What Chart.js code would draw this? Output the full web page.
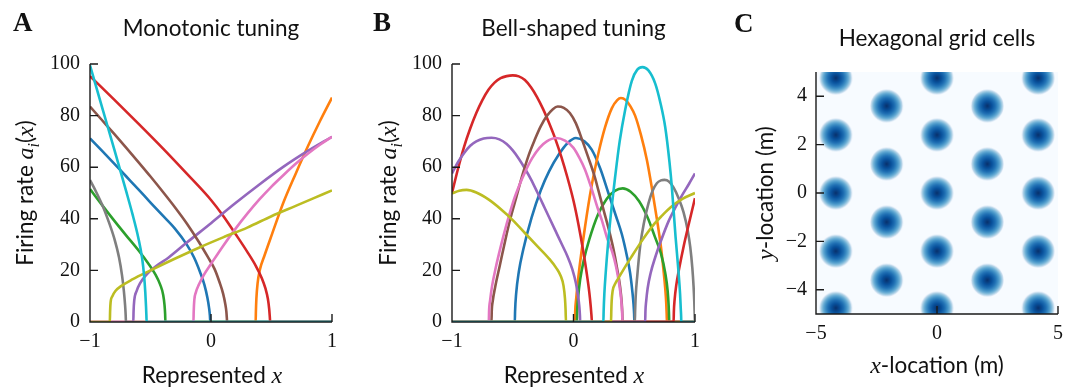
<!DOCTYPE html>
<html>
<head>
<meta charset="utf-8">
<title>Tuning curves</title>
<script src="https://cdn.jsdelivr.net/npm/chart.js@4.4.1/dist/chart.umd.min.js"></script>
<style>
  html, body { margin: 0; padding: 0; background: #fff; }
  #fig { position: relative; width: 1073px; height: 387px; overflow: hidden; }
  #fig canvas { position: absolute; top: 0; }
  .lbl { position: absolute; font-family: Lato, sans-serif; font-size: 22.5px; color: #111;
         white-space: nowrap; line-height: 1; transform: translate(-50%, -50%); }
  .rot { transform: translate(-50%, -50%) rotate(-90deg); }
  .m { font-family: "Liberation Serif", serif; font-style: italic; font-size: 24px; }
  .lbl sub { font-size: 16px; line-height: 0; }
  .panel { position: absolute; font-family: "Liberation Serif", serif; font-weight: bold;
           font-size: 27px; line-height: 1; color: #111; }
</style>
</head>
<body>
<div id="fig">
  <canvas id="mono" width="357" height="387" style="left:0"></canvas>
  <canvas id="bell" width="359" height="387" style="left:357px"></canvas>
  <canvas id="grid" width="357" height="387" style="left:716px"></canvas>

  <div class="panel" style="left:13px;top:9px">A</div>
  <div class="panel" style="left:373px;top:9px">B</div>
  <div class="panel" style="left:734px;top:10px">C</div>

  <div class="lbl rot" style="left:25px;top:193px">Firing rate <span class="m">a</span><sub class="m">i</sub>(<span class="m">x</span>)</div>
  <div class="lbl" style="left:212px;top:375px">Represented <span class="m">x</span></div>
  <div class="lbl rot" style="left:388px;top:193px">Firing rate <span class="m">a</span><sub class="m">i</sub>(<span class="m">x</span>)</div>
  <div class="lbl" style="left:574px;top:375px">Represented <span class="m">x</span></div>
  <div class="lbl rot" style="left:765px;top:193px"><span class="m">y</span>-location (m)</div>
  <div class="lbl" style="left:937px;top:365px"><span class="m">x</span>-location (m)</div>
</div>

<script>
// tick positions
const rateTicks = [0, 20, 40, 60, 80, 100];
const xTicks = [-1, 0, 1];
const locXTicks = [-5, 0, 5];
const locYTicks = [-4, -2, 0, 2, 4];

// monotonic tuning curves, [x, rate]
const monoBlue = [[-1,71.2],[-0.9,66.3],[-0.8,61.4],[-0.7,56.4],[-0.6,51.4],[-0.5,46.3],[-0.4,41.3],[-0.3,36.3],[-0.2,30],[-0.14,25],[-0.09,19.3],[-0.055,14.5],[-0.03,9.5],[-0.016,5.5],[-0.009,2.5],[-0.006,0],[1,0]];
const monoOrange = [[-1,0],[0.369,0],[0.371,4],[0.375,9],[0.385,15],[0.405,20.5],[0.44,25.5],[0.5,33.5],[0.6,46.5],[0.7,57.5],[0.8,68],[0.9,77.8],[1,87]];
const monoGreen = [[-1,51.5],[-0.9,45.3],[-0.8,39.3],[-0.7,33.5],[-0.6,27.8],[-0.52,22.8],[-0.46,18.5],[-0.42,14.5],[-0.395,10.5],[-0.384,6.5],[-0.379,3],[-0.377,0],[1,0]];
const monoRed = [[-1,95.3],[-0.8,86.2],[-0.6,76.9],[-0.4,67.4],[-0.2,57.5],[0,47.3],[0.1,41.2],[0.2,34.3],[0.3,27.2],[0.37,21.8],[0.42,17],[0.45,13],[0.47,9],[0.481,5],[0.486,2],[0.489,0],[1,0]];
const monoPurple = [[-1,0],[-0.642,0],[-0.64,4],[-0.634,8.5],[-0.615,12],[-0.587,15],[-0.54,18],[-0.45,21.8],[-0.35,25],[-0.2,30.8],[0,38.3],[0.2,46],[0.4,53.3],[0.6,60.2],[0.8,66.3],[1,71.8]];
const monoBrown = [[-1,83.5],[-0.9,78.2],[-0.8,72.9],[-0.7,67.5],[-0.6,62],[-0.5,56.4],[-0.4,50.6],[-0.3,44.6],[-0.2,38.2],[-0.1,31],[-0.03,25.5],[0.03,20.5],[0.07,15.5],[0.1,11],[0.118,7],[0.127,4],[0.131,1.5],[0.133,0],[1,0]];
const monoPink = [[-1,0],[-0.145,0],[-0.143,4],[-0.138,8.5],[-0.125,11.5],[-0.1,14.5],[-0.06,18.2],[0,22.5],[0.1,29.5],[0.2,36],[0.3,42],[0.4,47.5],[0.5,52.5],[0.6,57],[0.7,61.3],[0.8,65.2],[0.9,68.7],[1,71.8]];
const monoGray = [[-1,55],[-0.95,50.5],[-0.9,45.5],[-0.85,39.5],[-0.8,32.5],[-0.76,25],[-0.735,18],[-0.72,12],[-0.71,6.5],[-0.705,2.5],[-0.703,0],[1,0]];
const monoOlive = [[-1,0],[-0.836,0],[-0.834,4],[-0.83,7.5],[-0.815,10],[-0.79,12],[-0.74,14],[-0.65,16.5],[-0.5,20],[-0.3,24.5],[-0.1,28.8],[0.1,32.8],[0.3,36.6],[0.5,41],[0.7,45],[0.85,48],[1,51]];
const monoCyan = [[-1,99.5],[-0.9,83.2],[-0.8,67],[-0.7,50.5],[-0.65,42],[-0.6,32.5],[-0.57,25],[-0.553,18],[-0.543,11.5],[-0.537,6],[-0.534,2.5],[-0.532,0],[1,0]];

// bell-shaped tuning curves, [x, rate]
const bellBlue = [[-1,0],[-0.483,0],[-0.481,4],[-0.472,11],[-0.45,19.5],[-0.414,28],[-0.345,40.5],[-0.27,51],[-0.2,58.5],[-0.12,65],[-0.05,69.3],[0.02,71.3],[0.09,70],[0.15,66.8],[0.22,59.5],[0.287,50],[0.35,41],[0.398,34],[0.44,25.5],[0.466,19],[0.484,12],[0.494,7],[0.499,3],[0.501,0],[1,0]];
const bellOrange = [[-1,0],[0.012,0],[0.014,4],[0.022,9],[0.04,17.5],[0.095,36.9],[0.15,53],[0.205,65.4],[0.26,75.5],[0.315,82.8],[0.36,86],[0.39,86.8],[0.43,86],[0.47,83.5],[0.507,80],[0.555,72.5],[0.604,62.8],[0.645,52],[0.686,40],[0.72,29],[0.741,20],[0.755,13],[0.763,7.5],[0.767,3],[0.769,0],[1,0]];
const bellGreen = [[-1,0],[0.028,0],[0.03,4],[0.037,9],[0.055,16.5],[0.085,24],[0.13,32],[0.2,41.5],[0.27,47.5],[0.34,50.8],[0.405,51.8],[0.47,50.5],[0.54,46.8],[0.61,40.5],[0.67,33],[0.72,26.5],[0.755,19],[0.775,12],[0.783,6.5],[0.786,3],[0.788,0],[1,0]];
const bellRed = [[-1,50],[-0.95,59.5],[-0.9,68],[-0.85,75],[-0.8,81],[-0.75,86],[-0.7,90],[-0.65,92.8],[-0.6,94.5],[-0.55,95.3],[-0.5,95.6],[-0.45,95.2],[-0.4,93.8],[-0.35,91],[-0.3,87.2],[-0.25,82.5],[-0.2,77],[-0.15,71],[-0.1,64],[-0.05,56],[0,47],[0.04,38],[0.08,27.5],[0.11,18.5],[0.13,11.5],[0.142,6],[0.148,2.5],[0.152,0],[1,0]];
const bellPurple = [[-1,57.6],[-0.95,62],[-0.9,65.5],[-0.85,68.3],[-0.8,70],[-0.74,71.1],[-0.675,71.4],[-0.61,70.8],[-0.55,69],[-0.5,66.5],[-0.45,63.3],[-0.4,59.5],[-0.35,55.3],[-0.3,50.5],[-0.25,45.5],[-0.2,40.5],[-0.15,35.5],[-0.1,30.5],[-0.05,25.5],[-0.01,20.5],[0.02,15],[0.038,10],[0.048,6],[0.053,2.5],[0.055,0],[1,0]];
const bellBrown = [[-1,0],[-0.675,0],[-0.673,4],[-0.665,8],[-0.645,13.5],[-0.606,22],[-0.56,32],[-0.52,40],[-0.47,48.5],[-0.42,57],[-0.37,64.5],[-0.32,70.5],[-0.27,75.8],[-0.22,79.8],[-0.17,82.5],[-0.13,83.5],[-0.08,83],[-0.03,81],[0.02,77],[0.068,71],[0.12,64],[0.17,57],[0.205,51],[0.25,43],[0.29,36],[0.33,28],[0.36,20.5],[0.384,13.5],[0.396,8],[0.401,4],[0.404,0],[1,0]];
const bellPink = [[-1,0],[-0.697,0],[-0.695,4],[-0.686,8.5],[-0.67,14],[-0.64,21],[-0.6,29],[-0.55,38],[-0.497,46.5],[-0.45,52.5],[-0.4,58],[-0.34,63.5],[-0.28,67.5],[-0.22,70],[-0.145,71.3],[-0.07,70.3],[0,67.5],[0.05,63.5],[0.095,59],[0.15,51.5],[0.2,44],[0.233,39.5],[0.28,32],[0.32,27],[0.35,21.5],[0.375,15],[0.392,9],[0.4,4],[0.403,0],[1,0]];
const bellGray = [[-1,0],[0.505,0],[0.507,4],[0.512,10],[0.525,18],[0.549,29.5],[0.58,38.5],[0.617,46],[0.65,50.8],[0.686,53.8],[0.72,54.9],[0.75,55.1],[0.785,54.5],[0.823,52.2],[0.865,48],[0.906,42.5],[0.94,35.5],[0.961,29],[0.978,21],[0.988,14],[0.994,8],[0.997,3.5],[0.999,0],[1,0]];
const bellOlive = [[-1,49.8],[-0.94,50.9],[-0.88,51.2],[-0.8,50.2],[-0.7,47.5],[-0.6,43.8],[-0.5,39.5],[-0.4,34.5],[-0.3,29.5],[-0.2,24.5],[-0.14,20.8],[-0.105,17.8],[-0.082,14],[-0.07,9],[-0.065,4.5],[-0.062,0],[1,0]];
const bellRed2 = [[-1,0],[0.824,0],[0.826,4],[0.832,8.5],[0.845,14],[0.87,20.8],[0.906,29.2],[0.95,38.2],[1,48]];
const bellPurple2 = [[-1,0],[0.59,0],[0.592,4],[0.598,8],[0.61,13],[0.635,19],[0.672,25],[0.72,31.5],[0.782,39],[0.84,44.5],[0.892,49],[0.95,53.5],[1,57.6]];
const bellOlive2 = [[-1,0],[0.309,0],[0.311,4],[0.314,8],[0.322,12],[0.345,15],[0.37,17],[0.42,21],[0.48,25.5],[0.535,29.5],[0.6,34],[0.67,38.3],[0.728,41.2],[0.8,44.5],[0.9,47.8],[1,50]];
const bellCyan = [[-1,0],[0.246,0],[0.248,4],[0.254,11],[0.265,19],[0.287,31.8],[0.315,45],[0.342,56],[0.38,70],[0.425,82.2],[0.48,93.5],[0.525,97.8],[0.568,98.8],[0.615,97.6],[0.672,92.5],[0.715,85],[0.755,75.5],[0.79,62],[0.81,52],[0.84,33],[0.865,19],[0.877,11],[0.883,5],[0.886,2],[0.887,0],[1,0]];

// grid cell firing field centres (m)
const fieldX = [-4.18, 0, 4.18, -2.08, 2.08, -4.18, 0, 4.18, -2.08, 2.08, -4.18, 0, 4.18, -2.08, 2.08, -4.18, 0, 4.18, -2.08, 2.08, -4.18, 0, 4.18];
const fieldY = [4.75, 4.75, 4.75, 3.6, 3.6, 2.4, 2.4, 2.4, 1.2, 1.2, 0, 0, 0, -1.2, -1.2, -2.4, -2.4, -2.4, -3.6, -3.6, -4.75, -4.75, -4.75];
const fieldRadius = 0.67;

const tab = {
  blue: '#1f77b4', orange: '#ff7f0e', green: '#2ca02c', red: '#d62728', purple: '#9467bd',
  brown: '#8c564b', pink: '#e377c2', gray: '#7f7f7f', olive: '#bcbd22', cyan: '#17becf'
};

const tickFont = { family: 'Liberation Serif', size: 20 };
const titleFont = { family: 'Lato', size: 22.5, weight: 'normal', lineHeight: 1.2 };
const minus = v => String(v).replace('-', '\u2212');

// spines and inward tick marks, plus an optional axes background
const axesFrame = {
  id: 'axesFrame',
  beforeDatasetsDraw(chart, args, opts) {
    if (!opts.background) return;
    const a = chart.chartArea;
    chart.ctx.save();
    chart.ctx.fillStyle = opts.background;
    chart.ctx.fillRect(a.left, a.top, a.right - a.left, a.bottom - a.top);
    chart.ctx.restore();
  },
  afterDatasetsDraw(chart) {
    const { ctx, chartArea: a, scales: { x, y } } = chart;
    ctx.save();
    ctx.strokeStyle = '#1a1a1a';
    ctx.lineWidth = 1.4;
    ctx.beginPath();
    ctx.moveTo(a.left, a.top);
    ctx.lineTo(a.left, a.bottom);
    ctx.lineTo(a.right, a.bottom);
    x.ticks.forEach(t => {
      const px = x.getPixelForValue(t.value);
      ctx.moveTo(px, a.bottom);
      ctx.lineTo(px, a.bottom - 8);
    });
    y.ticks.forEach(t => {
      const py = y.getPixelForValue(t.value);
      ctx.moveTo(a.left, py);
      ctx.lineTo(a.left + 8, py);
    });
    ctx.stroke();
    ctx.restore();
  }
};

function scaleOptions(min, max, ticks, fit) {
  return {
    type: 'linear',
    min: min,
    max: max,
    grid: { display: false, drawTicks: false },
    border: { display: false },
    afterBuildTicks: s => { s.ticks = ticks.map(v => ({ value: v })); },
    afterFit: fit,
    ticks: { font: tickFont, color: '#111', callback: minus }
  };
}

function panelOptions(cfg) {
  const titleBox = titleFont.size * titleFont.lineHeight;
  return {
    responsive: false,
    animation: false,
    events: [],
    layout: { padding: { left: 0, right: cfg.padRight, top: 0, bottom: cfg.padBottom } },
    plugins: {
      legend: { display: false },
      tooltip: { enabled: false },
      title: {
        display: true, text: cfg.title, fullSize: false, color: '#111', font: titleFont,
        padding: { top: cfg.titleTop, bottom: cfg.plotTop - cfg.titleTop - titleBox }
      },
      axesFrame: { background: cfg.background || null }
    },
    scales: {
      x: Object.assign(scaleOptions(cfg.xMin, cfg.xMax, cfg.xTicks, s => { s.height = 40; }),
        { position: 'bottom' }),
      y: Object.assign(scaleOptions(cfg.yMin, cfg.yMax, cfg.yTicks, s => { s.width = cfg.yWidth; }),
        { position: 'left' })
    }
  };
}

function curveSets(list) {
  return list.map(([pts, color], i) => ({
    data: pts.map(([x, y]) => ({ x: x, y: y })),
    borderColor: color,
    borderWidth: 2.6,
    pointRadius: 0,
    fill: false,
    cubicInterpolationMode: 'monotone',
    order: list.length - i
  }));
}

function tuningPanel(id, title, curves, yWidth, padRight) {
  const opts = panelOptions({
    title: title, titleTop: 15, plotTop: 64, padRight: padRight, padBottom: 25, yWidth: yWidth,
    xMin: -1, xMax: 1, xTicks: xTicks, yMin: 0, yMax: 100, yTicks: rateTicks
  });
  opts.scales.x.ticks.padding = 8;
  opts.scales.y.ticks.padding = 10;
  return new Chart(document.getElementById(id), {
    type: 'line',
    data: { datasets: curveSets(curves) },
    options: opts,
    plugins: [axesFrame]
  });
}

tuningPanel('mono', 'Monotonic tuning', [
  [monoBlue, tab.blue], [monoOrange, tab.orange], [monoGreen, tab.green], [monoRed, tab.red],
  [monoPurple, tab.purple], [monoBrown, tab.brown], [monoPink, tab.pink], [monoGray, tab.gray],
  [monoOlive, tab.olive], [monoCyan, tab.cyan]
], 90, 25);

tuningPanel('bell', 'Bell-shaped tuning', [
  [bellBlue, tab.blue], [bellOrange, tab.orange], [bellGreen, tab.green], [bellRed, tab.red],
  [bellPurple, tab.purple], [bellBrown, tab.brown], [bellPink, tab.pink], [bellGray, tab.gray],
  [bellOlive, tab.olive], [bellRed2, tab.red], [bellPurple2, tab.purple], [bellOlive2, tab.olive],
  [bellCyan, tab.cyan]
], 95, 21);

// one firing field, shaded with the Blues colormap, sized from the x scale
let blobCache = null;
function fieldBlob(chart) {
  const xs = chart.scales && chart.scales.x;
  if (!xs || !chart.chartArea) return 'circle';
  const r = Math.abs(xs.getPixelForValue(fieldRadius) - xs.getPixelForValue(0));
  if (blobCache && blobCache.r === r) return blobCache.img;
  const size = Math.ceil(2 * r) + 2;
  const c = document.createElement('canvas');
  c.width = c.height = size;
  const g = c.getContext('2d');
  const grad = g.createRadialGradient(size / 2, size / 2, 0, size / 2, size / 2, r);
  grad.addColorStop(0.0, '#08306b');
  grad.addColorStop(0.28, '#08519c');
  grad.addColorStop(0.5, '#2171b5');
  grad.addColorStop(0.66, '#4292c6');
  grad.addColorStop(0.79, '#6baed6');
  grad.addColorStop(0.89, '#9ecae1');
  grad.addColorStop(0.97, '#c6dbef');
  grad.addColorStop(1.0, '#d4e4f3');
  g.fillStyle = grad;
  g.beginPath();
  g.arc(size / 2, size / 2, r, 0, Math.PI * 2);
  g.fill();
  blobCache = { r: r, img: c };
  return c;
}

const gridOpts = panelOptions({
  title: 'Hexagonal grid cells', titleTop: 25, plotTop: 72, padRight: 15, padBottom: 33, yWidth: 100,
  xMin: -5, xMax: 5, xTicks: locXTicks, yMin: -5, yMax: 5, yTicks: locYTicks, background: '#f7fbff'
});
gridOpts.scales.x.ticks.padding = 8;
gridOpts.scales.y.ticks.padding = 9;

new Chart(document.getElementById('grid'), {
  type: 'scatter',
  data: {
    datasets: [{
      data: fieldX.map((x, i) => ({ x: x, y: fieldY[i] })),
      pointStyle: ctx => fieldBlob(ctx.chart),
      pointRadius: ctx => {
        const xs = ctx.chart.scales.x;
        return xs ? Math.abs(xs.getPixelForValue(fieldRadius) - xs.getPixelForValue(0)) : 10;
      },
      borderWidth: 0,
      clip: 0
    }]
  },
  options: gridOpts,
  plugins: [axesFrame]
});
</script>
</body>
</html>
